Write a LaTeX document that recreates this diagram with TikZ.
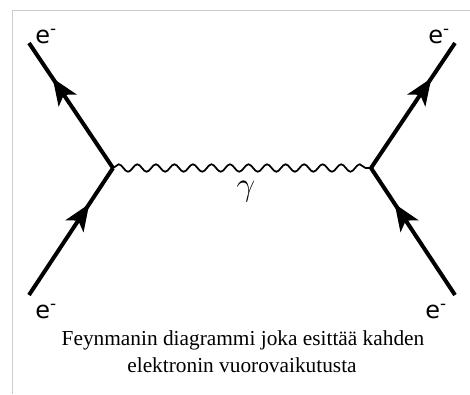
\documentclass[tikz,border=0pt]{standalone}
\usepackage{fontspec}
\setmainfont{Liberation Serif}
\newfontfamily\labelfont{DejaVu Sans}
\usetikzlibrary{arrows.meta,decorations.pathmorphing,decorations.markings}
\begin{document}
\begin{tikzpicture}[x=0.75pt,y=-0.75pt,
  frameline/.style={draw=black!20,line width=0.9pt},
  fermion/.style={line width=3pt,postaction={decorate},
    decoration={markings,mark=at position 0.72 with {\arrow{Stealth[length=20pt,width=16pt,inset=5pt]}}}},
  photon/.style={line width=1.3pt,decorate,
    decoration={snake,segment length=13.9pt,amplitude=2.8pt}},
  elabel/.style={inner sep=0pt,anchor=base west,font=\labelfont\fontsize{18}{18}\selectfont},
  caption/.style={align=center,inner sep=0pt,font=\fontsize{16}{20}\selectfont}]
\useasboundingbox (0,0) rectangle (470,394);
\draw[frameline] (12.5,394) -- (12.5,10.5) -- (470,10.5);
\coordinate (tl) at (29,43);
\coordinate (bl) at (29,295);
\coordinate (tr) at (455,43);
\coordinate (br) at (455,295);
\coordinate (lv) at (113,168);
\coordinate (rv) at (371,168);
\draw[fermion] (bl) -- (lv);
\draw[fermion] (lv) -- (tl);
\draw[fermion] (br) -- (rv);
\draw[fermion] (rv) -- (tr);
\draw[photon] (lv) -- (rv);
\node[elabel] (etl) at (35,43) {e\textsuperscript{-}};
\node[elabel] (etr) at (428,43) {e\textsuperscript{-}};
\node[elabel] (ebl) at (35,318) {e\textsuperscript{-}};
\node[elabel] (ebr) at (425,318) {e\textsuperscript{-}};
\node[inner sep=0pt,font=\fontsize{32}{32}\selectfont] (gamma) at (246,192) {$\gamma$};
\node[caption,anchor=base] (cap1) at (243,345) {Feynmanin diagrammi joka esittää kahden};
\node[caption,anchor=base] (cap2) at (242,372) {elektronin vuorovaikutusta};
\end{tikzpicture}
\end{document}
